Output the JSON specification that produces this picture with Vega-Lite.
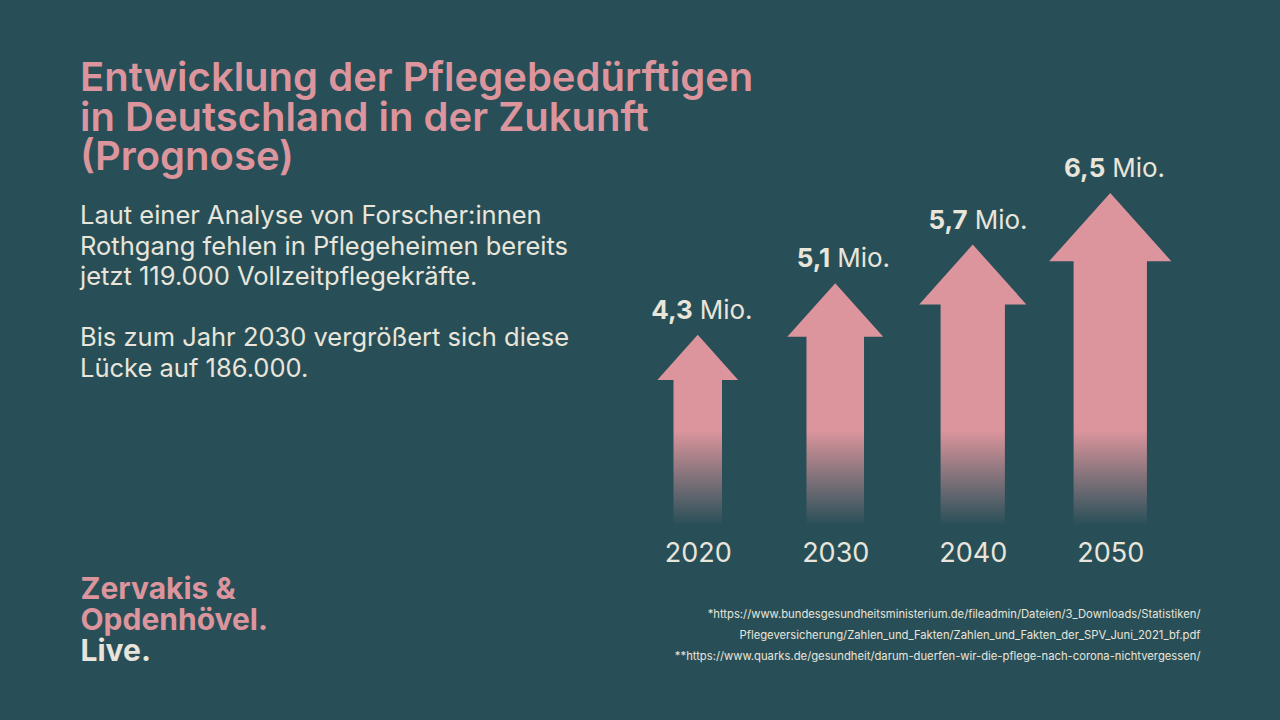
{
  "$schema": "https://vega.github.io/schema/vega-lite/v6.json",
  "width": 550,
  "height": 385,
  "autosize": {"type": "none"},
  "padding": {"left": 629, "top": 140, "right": 101, "bottom": 195},
  "background": "#284f58",
  "title": {
    "text": ["Entwicklung der Pflegebedürftigen", "in Deutschland in der Zukunft", "(Prognose)"],
    "subtitle": ["Laut einer Analyse von Forscher:innen", "Rothgang fehlen in Pflegeheimen bereits", "jetzt 119.000 Vollzeitpflegekräfte.", "\u200b", "Bis zum Jahr 2030 vergrößert sich diese", "Lücke auf 186.000."],
    "anchor": "start",
    "frame": "group",
    "orient": "top",
    "offset": 0,
    "dx": -549,
    "dy": 242,
    "font": "Inter",
    "fontSize": 40,
    "fontWeight": 600,
    "color": "#dc959c",
    "lineHeight": 39.5,
    "subtitleFont": "Inter",
    "subtitleFontSize": 25.5,
    "subtitleFontWeight": "normal",
    "subtitleColor": "#e9e5da",
    "subtitleLineHeight": 30.5,
    "subtitlePadding": 26
  },
  "data": {
    "values": [
      {"year": "2020", "value": 4.3},
      {"year": "2030", "value": 5.1},
      {"year": "2040", "value": 5.7},
      {"year": "2050", "value": 6.5}
    ]
  },
  "layer": [
    {
      "mark": {
        "type": "point",
        "filled": true,
        "clip": true,
        "opacity": 1,
        "color": "#dc959c",
        "shape": "M0,0L1,1.117L0.6,1.117L0.6,9L-0.6,9L-0.6,1.117L-1,1.117Z"
      },
      "encoding": {
        "x": {
          "field": "year",
          "type": "ordinal",
          "scale": {"type": "point", "padding": 0.5},
          "axis": {
            "labelAngle": 0,
            "labelFont": "Inter",
            "labelFontSize": 27,
            "labelColor": "#e9e5da",
            "labelPadding": 15,
            "domain": false,
            "ticks": false,
            "grid": false,
            "title": [
              "*https://www.bundesgesundheitsministerium.de/fileadmin/Dateien/3_Downloads/Statistiken/",
              "Pflegeversicherung/Zahlen_und_Fakten/Zahlen_und_Fakten_der_SPV_Juni_2021_bf.pdf",
              "**https://www.quarks.de/gesundheit/darum-duerfen-wir-die-pflege-nach-corona-nichtvergessen/"
            ],
            "titleFont": "Inter",
            "titleFontSize": 11.25,
            "titleFontWeight": "normal",
            "titleColor": "#e9e5da",
            "titleAnchor": "end",
            "titleAlign": "right",
            "titleBaseline": "top",
            "titleX": 571,
            "titleY": 83,
            "titleLineHeight": 21
          }
        },
        "y": {
          "field": "value",
          "type": "quantitative",
          "scale": {"domain": [1.35, 7.322], "zero": false, "nice": false},
          "axis": {
            "labels": false,
            "ticks": false,
            "domain": false,
            "grid": false,
            "title": ["Zervakis &", "Opdenhövel."],
            "titleAngle": 0,
            "titleAlign": "left",
            "titleBaseline": "top",
            "titleX": -549,
            "titleY": 434,
            "titleFont": "Inter",
            "titleFontSize": 30,
            "titleFontWeight": "bold",
            "titleColor": "#dc959c",
            "titleLineHeight": 31.5
          }
        },
        "size": {
          "field": "value",
          "type": "quantitative",
          "scale": {"type": "pow", "exponent": 2, "domain": [0, 7], "range": [0, 17319]},
          "legend": null
        }
      }
    },
    {
      "data": {"values": [{}]},
      "mark": {
        "type": "rect",
        "color": {
          "gradient": "linear",
          "x1": 0, "y1": 0, "x2": 0, "y2": 1,
          "stops": [
            {"offset": 0, "color": "rgba(40,79,88,0)"},
            {"offset": 1, "color": "rgba(40,79,88,1)"}
          ]
        }
      },
      "encoding": {
        "y": {"datum": 2.82, "type": "quantitative", "axis": null},
        "y2": {"datum": 1.35}
      }
    },
    {
      "mark": {
        "type": "text",
        "align": "right",
        "baseline": "alphabetic",
        "dx": -5,
        "dy": -16,
        "font": "Inter",
        "fontSize": 26,
        "fontWeight": "bold",
        "color": "#e9e5da"
      },
      "encoding": {
        "x": {"field": "year", "type": "ordinal"},
        "y": {
          "field": "value",
          "type": "quantitative",
          "axis": {
            "orient": "right",
            "labels": false,
            "ticks": false,
            "domain": false,
            "grid": false,
            "title": "Live.",
            "titleAngle": 0,
            "titleAlign": "left",
            "titleBaseline": "top",
            "titleX": -1099,
            "titleY": 496,
            "titleFont": "Inter",
            "titleFontSize": 30,
            "titleFontWeight": "bold",
            "titleColor": "#e9e5da"
          }
        },
        "text": {"field": "value", "type": "quantitative", "format": ".1f"}
      }
    },
    {
      "mark": {
        "type": "text",
        "align": "left",
        "baseline": "alphabetic",
        "dx": 2,
        "dy": -16,
        "font": "Inter",
        "fontSize": 26,
        "fontWeight": "normal",
        "color": "#e9e5da"
      },
      "encoding": {
        "x": {"field": "year", "type": "ordinal"},
        "y": {"field": "value", "type": "quantitative", "axis": null},
        "text": {"value": "Mio."}
      }
    }
  ],
  "resolve": {"axis": {"y": "independent"}},
  "config": {
    "view": {"stroke": null},
    "locale": {"number": {"decimal": ",", "thousands": ".", "grouping": [3], "currency": ["", " €"]}}
  }
}
